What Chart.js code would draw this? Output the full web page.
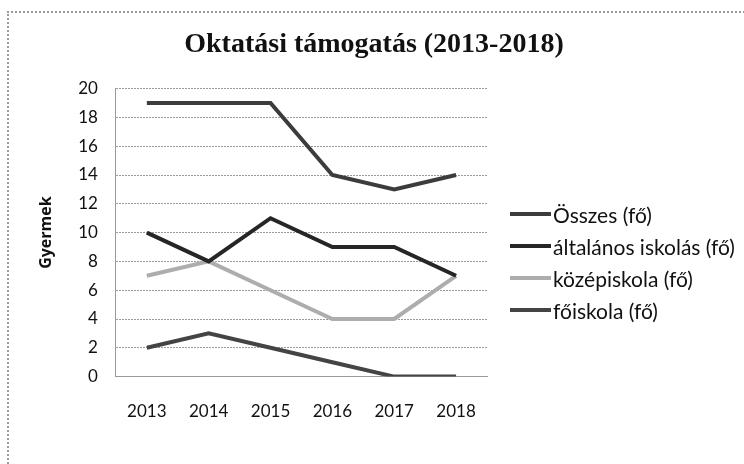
<!DOCTYPE html>
<html>
<head>
<meta charset="utf-8">
<script src="https://cdn.jsdelivr.net/npm/chart.js@4/dist/chart.umd.min.js"></script>
<style>
  html, body { margin: 0; padding: 0; background: #fff; }
  #wrap { position: relative; width: 744px; height: 464px; overflow: hidden; }
  #frame {
    position: absolute; left: 7px; top: 11px; width: 760px; height: 470px;
    border-top: 2px dotted #9a9a9a; border-left: 2px dotted #9a9a9a;
  }
  canvas { position: absolute; left: 0; top: 0; }
  #legend { position: absolute; left: 510px; top: 198px; }
  .legend-row {
    display: flex; align-items: center; height: 32px;
    font: 21px Lato, "Open Sans", sans-serif; color: #111; white-space: nowrap;
  }
  .legend-line { display: inline-block; width: 41px; height: 4px; margin-right: 2px; }
</style>
</head>
<body>
<div id="wrap">
  <div id="frame"></div>
  <canvas id="chart" width="744" height="464"></canvas>
  <div id="legend"></div>
</div>
<script>
const years = ["2013", "2014", "2015", "2016", "2017", "2018"];
const osszes = [19, 19, 19, 14, 13, 14];
const altalanos = [10, 8, 11, 9, 9, 7];
const kozep = [7, 8, 6, 4, 4, 7];
const foiskola = [2, 3, 2, 1, 0, 0];

const seriesNames = ["Összes (fő)", "általános iskolás (fő)", "középiskola (fő)", "főiskola (fő)"];
const seriesColors = ["#3c3c3c", "#262626", "#adadad", "#444444"];

const tickFont = { family: "Lato, 'Open Sans', sans-serif", size: 17 };

// the right padding leaves room for the html legend, so put the title back in the middle
const titleCenter = {
  id: "titleCenter",
  afterLayout(chart) {
    const t = chart.titleBlock;
    if (!t) return;
    t.left = 0;
    t.right = 748;
  }
};

function makeSet(i, data) {
  return {
    label: seriesNames[i],
    data: data,
    borderColor: seriesColors[i],
    backgroundColor: seriesColors[i],
    borderWidth: 4,
    pointRadius: 0,
    tension: 0,
    fill: false
  };
}

function renderLegend(chart) {
  document.getElementById("legend").innerHTML = chart.data.datasets.map(ds => `
    <div class="legend-row">
      <span class="legend-line" style="background:${ds.borderColor}"></span>
      <span>${ds.label}</span>
    </div>
  `).join("");
}

function drawChart() {
  const chart = new Chart(document.getElementById("chart"), {
    type: "line",
    data: {
      labels: years,
      datasets: [
        makeSet(0, osszes),
        makeSet(1, altalanos),
        makeSet(2, kozep),
        makeSet(3, foiskola)
      ]
    },
    plugins: [titleCenter],
    options: {
      responsive: false,
      animation: false,
      layout: { padding: { left: 10, right: 257, top: 0, bottom: 17 } },
      plugins: {
        title: {
          display: true,
          text: "Oktatási támogatás (2013-2018)",
          color: "#111",
          font: { family: "'Liberation Serif', 'Times New Roman', serif", size: 28, weight: "bold" },
          padding: { top: 28, bottom: 27 }
        },
        legend: { display: false },
        tooltip: { enabled: false }
      },
      scales: {
        x: {
          offset: true,
          grid: { display: false, drawTicks: false },
          border: { display: true, color: "#9a9a9a", dash: [2, 1] },
          ticks: { color: "#111", font: tickFont, padding: 25 }
        },
        y: {
          min: 0,
          max: 20,
          ticks: { stepSize: 2, color: "#111", font: tickFont, padding: 18 },
          grid: { color: "#9a9a9a", drawTicks: false },
          border: { display: true, color: "#9a9a9a", dash: [2, 1] },
          title: {
            display: true,
            text: "Gyermek",
            color: "#111",
            font: { family: "'Open Sans', 'DejaVu Sans', sans-serif", size: 16, weight: "bold" },
            padding: { top: 27, bottom: 4 }
          }
        }
      }
    }
  });
  renderLegend(chart);
}

Promise.all([
  document.fonts.load("17px Lato"),
  document.fonts.load("bold 16px 'Open Sans'"),
  document.fonts.load("bold 28px 'Liberation Serif'")
]).then(drawChart, drawChart);
</script>
</body>
</html>
